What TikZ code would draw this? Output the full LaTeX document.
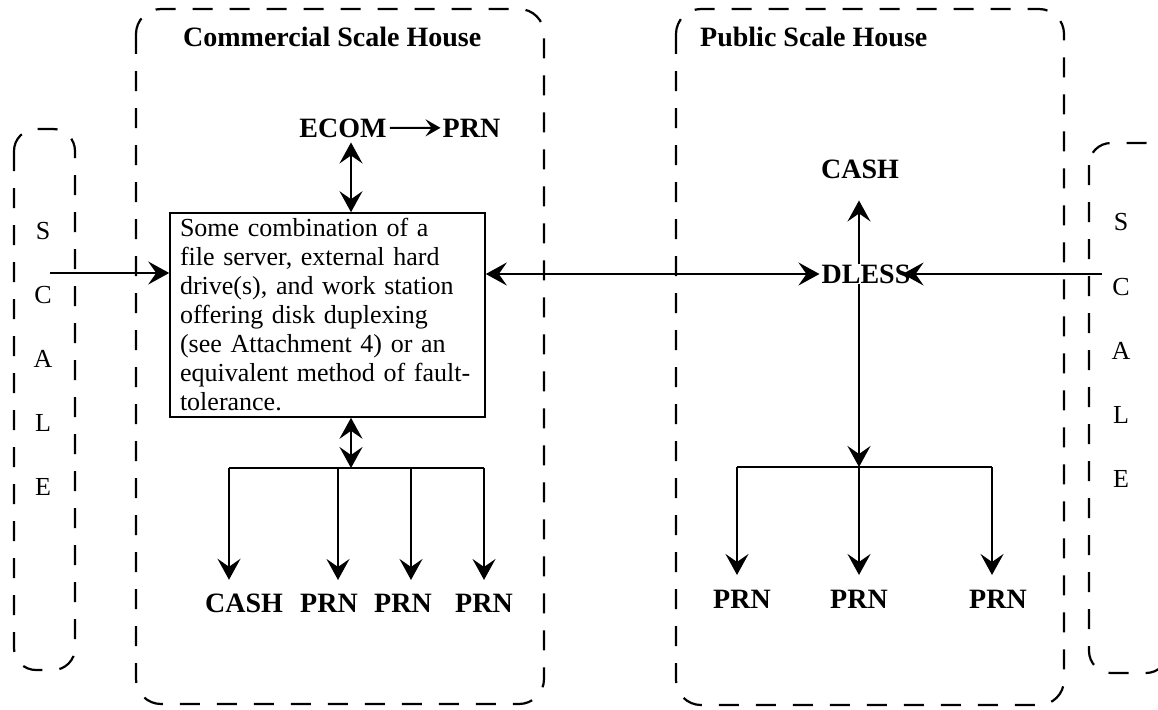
\documentclass[tikz,border=0pt]{standalone}
\usepackage{fontspec}
\setmainfont{Liberation Serif}
\usetikzlibrary{arrows.meta}
\tikzset{
  bigtip/.tip={Stealth[length=21pt,width=23pt,inset=8pt]},
  smalltip/.tip={Stealth[length=15pt,width=17pt,inset=6pt]}}
\begin{document}
\begin{tikzpicture}[x=1pt,y=-1pt,
  dbox/.style={line width=2.2pt, dash pattern=on 20pt off 17pt, rounded corners=25pt},
  lbl/.style={font=\fontsize{28}{30}\selectfont\bfseries, inner sep=0pt},
  ttl/.style={font=\fontsize{28}{30}\selectfont\bfseries, inner sep=0pt},
  letter/.style={font=\fontsize{26}{30}\selectfont, inner sep=0pt},
  arr/.style={line width=2pt, -{bigtip}},
  darr/.style={line width=2pt, {bigtip}-{bigtip}},
  plain/.style={line width=2pt}]
\useasboundingbox (0,0) rectangle (1158,709);
% dashed containers
\draw[dbox] (136,9) rectangle (544,704);
\draw[dbox] (676,9) rectangle (1064,705);
\draw[dbox, rounded corners=22pt] (14,129) rectangle (75,670);
\draw[dbox, rounded corners=22pt] (1089,143) rectangle (1168,673);
% titles
\node[ttl, anchor=base west] (t1) at (183,47) {Commercial Scale House};
\node[ttl, anchor=base west] (t2) at (700,47) {Public Scale House};
% SCALE letters
\foreach \l/\y [count=\i] in {S/231,C/295,A/359,L/423,E/487}
  \node[letter] (ls\i) at (43,\y) {\l};
\foreach \l/\y [count=\i] in {S/222,C/287,A/351,L/415,E/479}
  \node[letter] (rs\i) at (1121,\y) {\l};
% commercial side
\node[lbl, anchor=base] (ecom) at (343,137) {ECOM};
\node[lbl, anchor=base] (prn0) at (471.5,137) {PRN};
\node[draw, line width=1.6pt, minimum width=315pt, minimum height=204pt,
      inner xsep=10pt, text width=295pt, align=left,
      font=\fontsize{26}{29}\selectfont] (srv) at (327.5,315)
  {Some combination of a\\file server, external hard\\drive(s), and work station\\offering disk duplexing\\(see Attachment 4) or an\\equivalent method of fault-\\tolerance.};
\coordinate (c0) at (351,468);
\coordinate (c1) at (229,468);
\coordinate (c2) at (338,468);
\coordinate (c3) at (411,468);
\coordinate (c4) at (484,468);
\node[lbl, anchor=base] (cash1) at (244,612) {CASH};
\node[lbl, anchor=base] (prn1) at (329,612) {PRN};
\node[lbl, anchor=base] (prn2) at (403,612) {PRN};
\node[lbl, anchor=base] (prn3) at (484,612) {PRN};
\draw[line width=2pt, -{smalltip}, shorten <=3pt, shorten >=2pt] (ecom.east) -- (prn0.west);
\draw[darr, shorten <=5pt] (ecom.south -| c0) -- (srv.north -| c0);
\draw[darr] (srv.south -| c0) -- (c0);
\draw[plain] (c1) -- (c4);
\draw[arr, shorten >=13.5pt] (c1) -- (c1 |- cash1.north);
\draw[arr, shorten >=13.5pt] (c2) -- (c2 |- prn1.north);
\draw[arr, shorten >=13.5pt] (c3) -- (c3 |- prn2.north);
\draw[arr, shorten >=13.5pt] (c4) -- (c4 |- prn3.north);
% public side
\node[lbl] (dl) at (866,274) {DLESS};
\node[lbl, anchor=base] (cash2) at (860,178) {CASH};
\coordinate (p0) at (859,467);
\coordinate (p1) at (737,467);
\coordinate (p3) at (992,467);
\node[lbl, anchor=base] (q1) at (742,608) {PRN};
\node[lbl, anchor=base] (q2) at (859,608) {PRN};
\node[lbl, anchor=base] (q3) at (998,608) {PRN};
\draw[arr, shorten >=22pt] (dl.north -| p0) -- (cash2.south -| p0);
\draw[arr] (dl.south -| p0) -- (p0);
\draw[plain] (p1) -- (p3);
\draw[arr, shorten >=14.5pt] (p1) -- (p1 |- q1.north);
\draw[arr, shorten >=14.5pt] (p0) -- (p0 |- q2.north);
\draw[arr, shorten >=14.5pt] (p3) -- (p3 |- q3.north);
% connections
\coordinate (lin) at (50,273);
\coordinate (rin) at (1102,274);
\draw[arr] (lin) -- (lin -| srv.west);
\draw[darr, shorten >=2pt] (srv.east |- dl.west) -- (dl.west);
\draw[arr, shorten >=-8pt] (rin) -- (dl.east);
\end{tikzpicture}
\end{document}
